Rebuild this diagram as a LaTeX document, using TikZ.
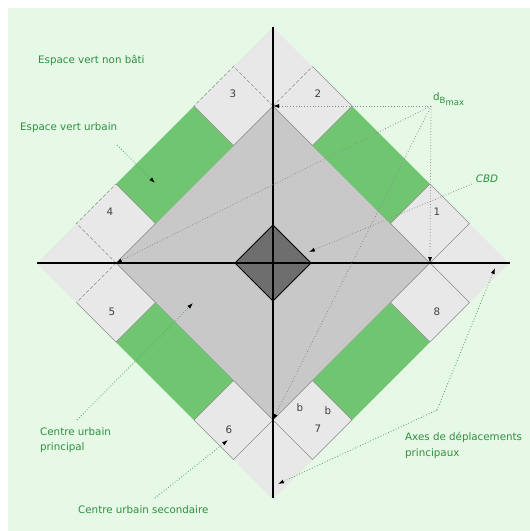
\documentclass[tikz,border=0pt]{standalone}
\usepackage{fontspec}
\setmainfont{DejaVu Sans}
\usepackage{xcolor}
\usetikzlibrary{arrows.meta}
\definecolor{vertfond}{HTML}{E6F8E6}
\definecolor{vertparc}{HTML}{70C670}
\definecolor{vertlegende}{HTML}{2F8F3F}
\definecolor{grisclair}{HTML}{E8E8E8}
\definecolor{grismoyen}{HTML}{C8C8C8}
\definecolor{grisfonce}{HTML}{6E6E6E}
\definecolor{grisbord}{HTML}{8C8C8C}

\begin{document}
\begin{tikzpicture}[x=1pt, y=-1pt,
    every node/.style={font=\fontsize{10.3}{15.5}\selectfont, inner sep=0pt},
    legende/.style={text=vertlegende, align=left, anchor=west},
    numero/.style={text=black!75},
    trait/.style={draw=grisbord, line width=0.6pt},
    cache/.style={trait, dash pattern=on 3.5pt off 2pt},
    axe/.style={line width=1.2pt, black},
    fleche/.style={dotted, line width=0.8pt, draw=grisbord,
                   -{Latex[length=6pt, width=4pt, color=black]}},
    flechev/.style={fleche, draw=vertlegende!85}]

    % fond
    \useasboundingbox (0,0) rectangle (530,531);
    \fill[vertfond] (8,8) rectangle (530,531);

    \begin{scope}[shift={(273,263)}]
      \coordinate (haut) at (0,-157);
      \coordinate (droite) at (157,0);
      \coordinate (bas) at (0,157);
      \coordinate (gauche) at (-157,0);

      % losanges
      \fill[grisclair] (0,-236) -- (236,0) -- (0,236) -- (-236,0) -- cycle;
      \filldraw[fill=grismoyen, trait] (haut) -- (droite) -- (bas) -- (gauche) -- cycle;

      % espaces verts et ilots
      \foreach \sx/\sy in {1/1, -1/1, -1/-1, 1/-1} {
        \fill[vertparc, xscale=\sx, yscale=\sy] (39.5,-117.5) -- (117.5,-39.5) -- (157,-79) -- (79,-157) -- cycle;
        \fill[grisclair, xscale=\sx, yscale=\sy] (39.5,-117.5) -- (0,-157) -- (39.5,-196.5) -- (79,-157) -- cycle;
        \fill[grisclair, xscale=\sx, yscale=\sy] (117.5,-39.5) -- (157,0) -- (196.5,-39.5) -- (157,-79) -- cycle;
        \draw[trait, xscale=\sx, yscale=\sy] (79,-157) -- (39.5,-117.5) -- (0,-157);
        \draw[trait, xscale=\sx, yscale=\sy] (157,-79) -- (117.5,-39.5) -- (157,0);
      }
      \draw[trait] (157,0) -- (196.5,-39.5) -- (157,-79);
      \draw[trait] (39.5,-196.5) -- (79,-157);
      \draw[cache] (0,-157) -- (39.5,-196.5);
      \draw[cache] (0,-157) -- (-39.5,-196.5) -- (-79,-157);
      \draw[cache] (-157,0) -- (-196.5,-39.5) -- (-157,-79);
      \draw[trait] (-196.5,39.5) -- (-157,79);
      \draw[cache] (-157,0) -- (-196.5,39.5);
      \draw[trait] (0,157) -- (-39.5,196.5) -- (-79,157);
      \draw[trait] (0,157) -- (39.5,196.5) -- (79,157);
      \draw[trait] (157,0) -- (196.5,39.5) -- (157,79);

      \node[numero] (n1) at (164,-51) {1};
      \node[numero] (n2) at (45,-169) {2};
      \node[numero] (n3) at (-40,-169) {3};
      \node[numero] (n4) at (-163,-51) {4};
      \node[numero] (n5) at (-161,49) {5};
      \node[numero] (n6) at (-44,167) {6};
      \node[numero] (n7) at (45,166) {7};
      \node[numero] (n8) at (164,49) {8};
      \node[numero] (b1) at (27,145) {b};
      \node[numero] (b2) at (55,148) {b};

      % CBD
      \filldraw[fill=grisfonce, draw=black, line width=0.8pt] (0,-38) -- (38,0) -- (0,38) -- (-38,0) -- cycle;

      % axes
      \draw[axe] (-236,0) -- (237,0);
      \draw[axe] (0,-236) -- (0,235);
    \end{scope}

    % legendes
    \node[legende] (nonbati) at (38,60) {Espace vert non bâti};
    \node[legende] (urbain) at (20,128) {Espace vert urbain};
    \node[legende] (dmax) at (433,99) {d\raisebox{-3pt}{\fontsize{8.5}{9}\selectfont B\raisebox{-2pt}{max}}};
    \node[legende, anchor=center, font=\fontsize{10.3}{15.5}\selectfont\itshape] (cbd) at (487,179) {CBD};
    \node[legende] (principal) at (40,440) {Centre urbain\\principal};
    \node[legende] (secondaire) at (78,510) {Centre urbain secondaire};
    \node[legende] (axes) at (405,445.5) {Axes de déplacements\\principaux};

    \coordinate (pvu) at (117,145);
    \coordinate (cvu) at (155,183);
    \coordinate (pdb) at (431,106);
    \coordinate (pcbd) at (472,184);
    \coordinate (ccbd) at (309,252);
    \coordinate (pcp) at (77,420);
    \coordinate (ccp) at (193,303);
    \coordinate (pcs) at (155,498);
    \coordinate (ccs) at (228,440);
    \coordinate (pax) at (437,410);
    \coordinate (cax1) at (495,268);
    \coordinate (cax2) at (278,484);

    \draw[flechev] (pvu) -- (cvu);
    \draw[fleche] (pdb) -- (haut);
    \draw[fleche] (pdb) -- (droite);
    \draw[fleche] (pdb) -- (gauche);
    \draw[fleche] (pdb) -- (bas);
    \draw[fleche] (pcbd) -- (ccbd);
    \draw[flechev] (pcp) -- (ccp);
    \draw[flechev] (pcs) -- (ccs);
    \draw[flechev] (pax) -- (cax1);
    \draw[flechev] (pax) -- (cax2);
\end{tikzpicture}
\end{document}
